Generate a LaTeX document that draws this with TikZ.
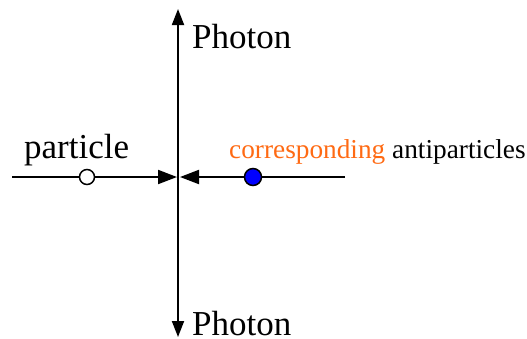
\documentclass[tikz,border=0pt]{standalone}
\usepackage{fontspec}
\setmainfont{Liberation Serif}
\usetikzlibrary{arrows.meta}
\definecolor{orng}{HTML}{FF6A13}
\tikzset{
  vaxis/.style={line width=1.8pt, -{Triangle[length=16pt,width=12pt]}},
  haxis/.style={line width=2pt, -{Triangle[length=19pt,width=14pt]}},
  big/.style={font=\fontsize{35}{40}\selectfont, inner sep=0pt, anchor=base west},
  mid/.style={font=\fontsize{27.3}{32}\selectfont, inner sep=0pt, anchor=base west},
}
\begin{document}
\begin{tikzpicture}[x=1pt,y=-1pt]
\useasboundingbox (0,0) rectangle (527,338);
\coordinate (top) at (178,9);
\coordinate (bot) at (178,337);
\coordinate (ctr) at (178,177);
\coordinate (cl) at (177,177);
\coordinate (cr) at (180,177);
\coordinate (lend) at (12,177);
\coordinate (rend) at (345,177);
\draw[vaxis] (ctr) -- (top);
\draw[vaxis] (ctr) -- (bot);
\draw[haxis] (lend) -- (cl);
\draw[haxis] (rend) -- (cr);
\node[circle, draw, line width=1.5pt, fill=white, minimum size=15pt, inner sep=0pt] (p) at (87,177) {};
\node[circle, draw, line width=1.5pt, fill=blue, minimum size=17pt, inner sep=0pt] (ap) at (253,177) {};
\node[big] (ph1) at (192,48) {Photon};
\node[big] (ph2) at (192,335) {Photon};
\node[big] (pl) at (24,158) {particle};
\node[mid] (al) at (229,158) {\textcolor{orng}{corresponding} antiparticles};
\end{tikzpicture}
\end{document}
